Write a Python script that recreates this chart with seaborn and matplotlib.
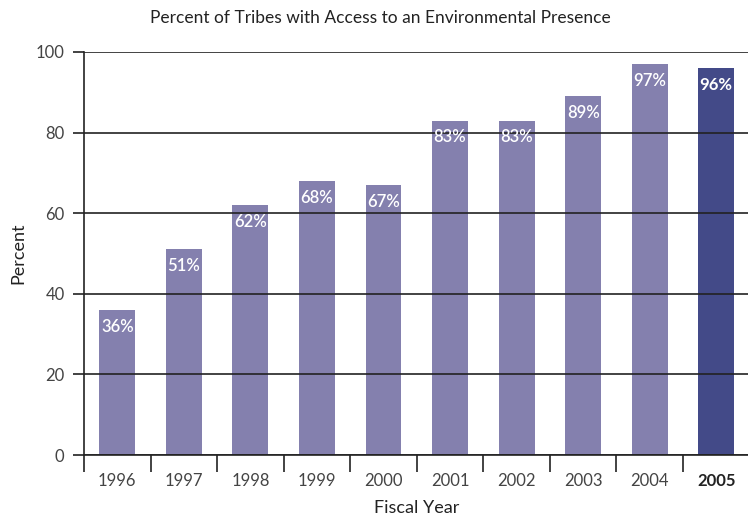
import matplotlib
matplotlib.use('Agg')
import matplotlib.pyplot as plt
import seaborn as sns
import numpy as np
import pandas as pd

# Chart data
years = ['1996', '1997', '1998', '1999', '2000', '2001', '2002', '2003', '2004', '2005']
percent = [36, 51, 62, 68, 67, 83, 83, 89, 97, 96]
current = ['past'] * 9 + ['current']

df = pd.DataFrame({'year': years, 'percent': percent, 'group': current})

sns.set_style('white')
plt.rcParams['font.family'] = ['Lato', 'DejaVu Sans']

fig = plt.figure(figsize=(7.48, 5.16), dpi=100)
ax = fig.add_axes([84 / 748, 1 - 455 / 516, 665.5 / 748, (455 - 52) / 516])

sns.barplot(data=df, x='year', y='percent', hue='group',
            palette={'past': '#8480ae', 'current': '#434a88'},
            dodge=False, legend=False, width=0.54, saturation=1,
            linewidth=0, edgecolor='none', ax=ax)

ax.set_xlim(-0.5, 9.5)
ax.set_ylim(0, 100)
ax.set_yticks([0, 20, 40, 60, 80, 100])
ax.set_yticklabels(['0', '20', '40', '60', '80', '100'])

# gridlines over the bars
ax.set_axisbelow(False)
ax.yaxis.grid(True, color='#222222', linewidth=1.2)
ax.xaxis.grid(False)

for side in ['top', 'right']:
    ax.spines[side].set_visible(False)
for side in ['left', 'bottom']:
    ax.spines[side].set_color('#222222')
    ax.spines[side].set_linewidth(1.2)

# x ticks at category boundaries
ax.set_xticks(np.arange(len(years)) - 0.5, minor=True)
ax.tick_params(axis='x', which='minor', length=12, width=1.2, color='#222222', direction='out')
ax.tick_params(axis='x', which='major', length=0, pad=13, labelsize=12, labelcolor='#444444')
ax.tick_params(axis='y', length=8, width=1.2, color='#222222', direction='out', pad=6,
               labelsize=12, labelcolor='#444444')
ax.yaxis.set_ticks_position('left')
ax.xaxis.set_ticks_position('bottom')

labels = ax.get_xticklabels()
labels[-1].set_fontweight('bold')
labels[-1].set_color('#222222')

for i, v in enumerate(percent):
    ax.text(i, v - 2.2, f'{v}%', ha='center', va='top', color='white',
            fontsize=12, fontweight='bold' if i == len(percent) - 1 else 'semibold')

ax.set_xlabel('Fiscal Year', fontsize=13, color='#222222', va='center')
ax.xaxis.set_label_coords(0.5, (455 - 508) / 403)
ax.set_ylabel('Percent', fontsize=13, color='#222222', va='center')
ax.yaxis.set_label_coords((18 - 84) / 665.5, 0.5)
fig.text(380 / 748, 1 - 18 / 516, 'Percent of Tribes with Access to an Environmental Presence',
         ha='center', va='center', fontsize=12.5, color='#222222')

fig.savefig('out.png', dpi=100)
